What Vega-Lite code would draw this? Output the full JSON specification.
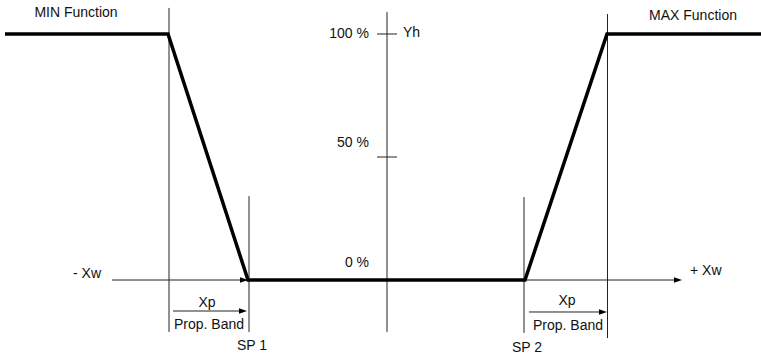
{
  "$schema": "https://vega.github.io/schema/vega-lite/v6.json",
  "width": 761,
  "height": 359,
  "autosize": {"type": "none"},
  "padding": 0,
  "config": {"view": {"stroke": null}, "text": {"font": "Liberation Sans", "fontSize": 14, "color": "#111"}},
  "encoding": {
    "x": {"field": "x", "type": "quantitative", "scale": {"domain": [0, 761], "nice": false, "zero": false}, "axis": null},
    "y": {"field": "y", "type": "quantitative", "scale": {"domain": [-32.11, 113.82], "nice": false, "zero": false}, "axis": null}
  },
  "layer": [
    {
      "data": {"values": [
        {"x": 169, "y": 110.6, "y2": -21.1},
        {"x": 249, "y": 34.1, "y2": -21.1},
        {"x": 387, "y": 108.9, "y2": -21.1},
        {"x": 524, "y": 33.7, "y2": -21.5},
        {"x": 607.5, "y": 108.1, "y2": -23.6}
      ]},
      "mark": {"type": "rule", "color": "#222", "strokeWidth": 1},
      "encoding": {"y2": {"field": "y2"}}
    },
    {
      "data": {"values": [
        {"x": 112, "x2": 678, "y": 0},
        {"x": 377, "x2": 397, "y": 100},
        {"x": 377, "x2": 397, "y": 50},
        {"x": 173, "x2": 244, "y": -12.6},
        {"x": 529, "x2": 604, "y": -13.0}
      ]},
      "mark": {"type": "rule", "color": "#222", "strokeWidth": 1},
      "encoding": {"x2": {"field": "x2"}}
    },
    {
      "data": {"values": [
        {"x": 248, "y": 0},
        {"x": 682, "y": 0},
        {"x": 247, "y": -12.6},
        {"x": 607, "y": -13.0}
      ]},
      "mark": {"type": "point", "shape": "M-2,-0.7L0,0L-2,0.7Z", "size": 64, "filled": true, "color": "#000", "opacity": 1, "strokeWidth": 0}
    },
    {
      "data": {"values": [
        {"x": 5, "y": 100},
        {"x": 168, "y": 100},
        {"x": 248, "y": 0},
        {"x": 525, "y": 0},
        {"x": 607, "y": 100},
        {"x": 761, "y": 100}
      ]},
      "mark": {"type": "line", "color": "#000", "strokeWidth": 3.5, "strokeJoin": "miter"}
    },
    {
      "data": {"values": [
        {"x": 76, "y": 108.5, "label": "MIN Function"},
        {"x": 693, "y": 107.4, "label": "MAX Function"},
        {"x": 207, "y": -9.3, "label": "Xp"},
        {"x": 567, "y": -8.5, "label": "Xp"},
        {"x": 209, "y": -18.3, "label": "Prop. Band"},
        {"x": 568, "y": -18.7, "label": "Prop. Band"},
        {"x": 252, "y": -26.8, "label": "SP 1"},
        {"x": 527, "y": -27.6, "label": "SP 2"}
      ]},
      "mark": {"type": "text", "align": "center", "baseline": "middle"},
      "encoding": {"text": {"field": "label"}}
    },
    {
      "data": {"values": [
        {"x": 369, "y": 100.2, "label": "100 %"},
        {"x": 369, "y": 55.7, "label": "50 %"},
        {"x": 369, "y": 6.9, "label": "0 %"}
      ]},
      "mark": {"type": "text", "align": "right", "baseline": "middle"},
      "encoding": {"text": {"field": "label"}}
    },
    {
      "data": {"values": [
        {"x": 403, "y": 100.6, "label": "Yh"},
        {"x": 73, "y": 2.4, "label": "- Xw"},
        {"x": 690, "y": 3.7, "label": "+ Xw"}
      ]},
      "mark": {"type": "text", "align": "left", "baseline": "middle"},
      "encoding": {"text": {"field": "label"}}
    }
  ]
}
